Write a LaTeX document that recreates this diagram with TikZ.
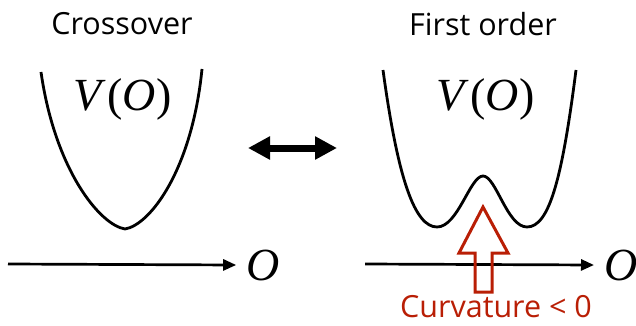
\documentclass[tikz,border=0pt]{standalone}
\usepackage{fontspec}
\setmainfont{Open Sans}
\newfontfamily\mathserif{Liberation Serif}
\usetikzlibrary{positioning, arrows.meta}
\definecolor{curvRed}{RGB}{185, 30, 5}
\newcommand{\potlabel}{\textit{V}\kern1pt(\textit{O}\kern1pt)}

\begin{document}
\begin{tikzpicture}[
    x=1pt, y=-1pt,
    every node/.style={inner sep=0pt},
    title/.style={font=\fontsize{30.5}{32}\selectfont, anchor=center},
    vlabel/.style={font=\mathserif\fontsize{46}{48}\selectfont},
    potential/.style={line width=2.8pt, line join=round},
    axis/.style={-{Triangle[length=13pt, width=11pt]}, line width=2.7pt},
    swap/.style={{Triangle[length=22pt, width=22pt]}-{Triangle[length=22pt, width=22pt]}, line width=7pt},
    hollow/.style={draw=curvRed, line width=3pt, line join=miter}
]
\useasboundingbox (0,0) rectangle (636,326);

% --- Left: crossover ------------------------------------------------------
\node[title] (cross) at (122,24) {Crossover};
\node[vlabel] (vleft) at (123,99) {\potlabel};
\draw[potential] (41,72) .. controls (55,170) and (100,225) .. (125,229)
                         .. controls (150,225) and (192,170) .. (202,69);
\coordinate (axleft) at (8,264);
\node[vlabel] (oleft) at (263,265) {\textit{O}};
\draw[axis] (axleft) -- ([xshift=-10pt]oleft.west);

% --- Middle: double arrow -------------------------------------------------
\coordinate (swl) at (248,148);
\coordinate (swr) at (337,148);
\draw[swap] (swl) -- (swr);

% --- Right: first order ---------------------------------------------------
\node[title] (first) at (483,24) {First order};
\node[vlabel] (vright) at (486,99) {\potlabel};
\draw[potential] (383,70) .. controls (398,180) and (415,227) .. (437,227)
                          .. controls (458,227) and (470,176) .. (483,176)
                          .. controls (496,176) and (507,227) .. (527,227)
                          .. controls (549,227) and (562,180) .. (576,70);
\coordinate (axright) at (365,264);
\node[vlabel, anchor=west] (oright) at (604,265) {\textit{O}};
\draw[axis] (axright) -- ([xshift=-10pt]oright.west);

% --- Hollow arrow under the barrier ---------------------------------------
\draw[hollow] (483,207) -- (508,253) -- (492,253) -- (492,292)
              -- (475,292) -- (475,253) -- (459,253) -- cycle;
\node[title, text=curvRed, anchor=base, text depth=0pt] (curv) at (496,317) {Curvature < 0};

\end{tikzpicture}
\end{document}
